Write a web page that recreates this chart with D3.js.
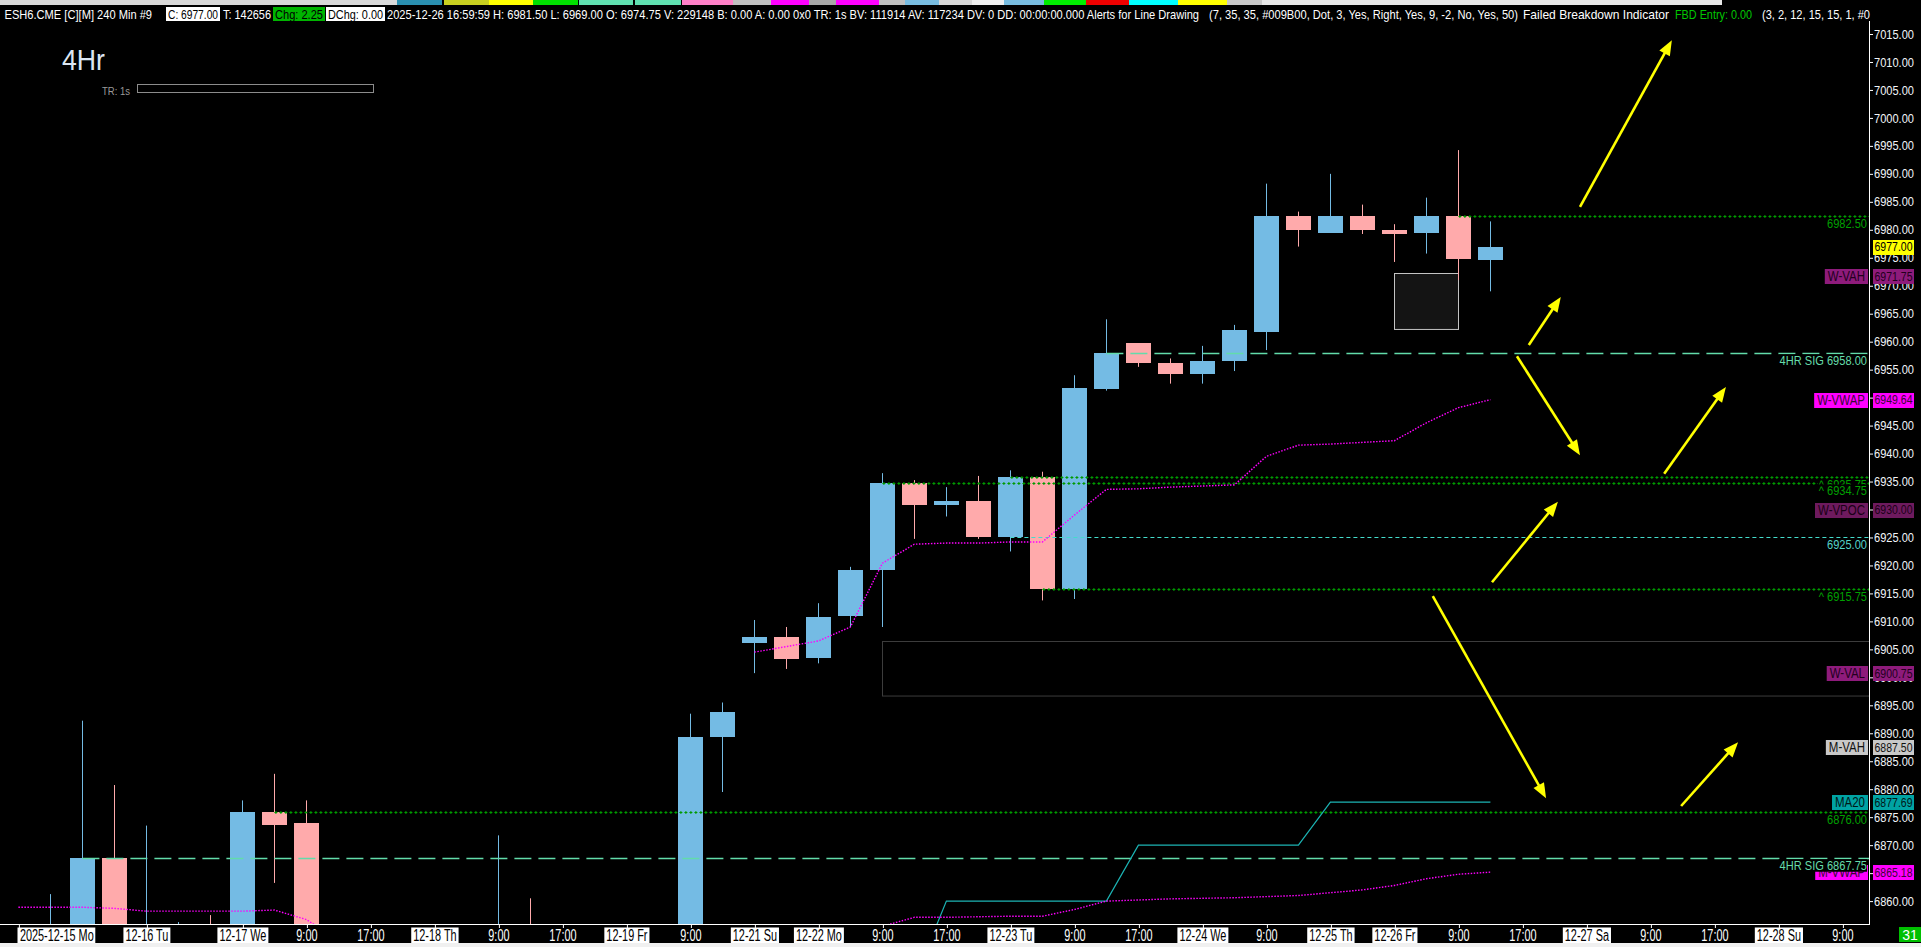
<!DOCTYPE html>
<html><head><meta charset="utf-8">
<script src="https://cdn.jsdelivr.net/npm/d3@7"></script>
<style>
html,body{margin:0;padding:0;background:#000;overflow:hidden}
svg{display:block}
text{font-family:"Liberation Sans","DejaVu Sans",Arial,sans-serif}
</style></head><body>
<svg id="c" width="1921" height="947"></svg>
<script>
// ---------------- DATA ----------------
// 240-min bars, index 0 = 2025-12-15 session start
const opens  = [6845,6846,6850,6867.75,6840,6846,6850,6840,6876,6874,6845,6835,6842,6836,6840,6845,6848,6835,6820,6830,6840,6846,6889.25,6906.25,6907.25,6903.5,6911,6919.25,6934.75,6930.75,6931.5,6925,6935.75,6915.75,6951.5,6959.75,6956.25,6954.25,6956.5,6961.75,6982.5,6979.5,6982.5,6980,6979.5,6982.5,6974.75];
const highs  = [6852,6861.25,6892.25,6880.75,6873.5,6856.25,6857.5,6878,6882.75,6878,6852,6848,6850,6846,6850,6871.75,6860.5,6845,6835,6845,6850,6893.5,6895.5,6910.25,6909,6913.25,6919.75,6936.5,6935.25,6934,6936,6937,6936.75,6954,6964,6959.75,6957,6959.25,6963,6988.25,6983.25,6990,6984.5,6981,6985.75,6994.25,6981.5];
const lows   = [6838,6840,6846,6840,6832,6838,6836,6838,6863.25,6840,6830,6825,6832,6828,6834,6838,6830,6815,6812,6825,6835,6844,6879.5,6900.75,6901.5,6902.5,6909,6909,6924.75,6928.75,6924.75,6922.5,6913.75,6914,6951.25,6955.5,6952.5,6952.5,6954.75,6958.5,6977,6979.5,6979.25,6974.25,6975.75,6971,6969];
const closes = [6848,6852,6867.75,6845,6848,6850,6840,6876,6873.75,6845,6835,6842,6836,6840,6845,6848,6835,6820,6830,6840,6846,6889.25,6893.75,6907.25,6903.25,6910.75,6919.25,6934.75,6930.75,6931.5,6925,6935.75,6915.75,6951.75,6958,6956.25,6954.25,6956.5,6962,6982.5,6980,6982.5,6980,6979.25,6982.5,6974.75,6977];

// weekly VWAP (week of 12-15, then week of 12-22)
const wvwap1Bars = [0,1,2,3,4,5,6,7,8,9,10];
const wvwap1     = [6858.9,6858.9,6858.9,6858.7,6858.2,6858.2,6858.2,6858.2,6858.4,6856.7,6853];
const wvwap2Bars = [23,24,25,26,27,28,29,30,31,32,33,34,35,36,37,38,39,40,41,42,43,44,45,46];
const wvwap2     = [6904.5,6905.5,6906.5,6909,6920.4,6923.8,6924,6924,6924.2,6924.2,6929,6933.6,6933.7,6934,6934.2,6934.4,6939.5,6941.5,6941.7,6942,6942.3,6945.5,6948.2,6949.64];
// monthly VWAP
const mvwapBars = [25,26,27,28,29,30,31,32,33,34,35,36,37,38,39,40,41,42,43,44,45,46];
const mvwap     = [6852,6853.5,6855.5,6857.1,6857.1,6857.2,6857.3,6857.3,6858.5,6860,6860.2,6860.4,6860.5,6860.6,6860.8,6861,6861.5,6862,6862.8,6864,6864.8,6865.18];
// MA20 (stepped)
const ma20Bars = [28,29,30,31,32,33,34,35,36,37,38,39,40,41,42,43,44,45,46];
const ma20     = [6846,6860,6860,6860,6860,6860,6860,6870,6870,6870,6870,6870,6870,6877.69,6877.69,6877.69,6877.69,6877.69,6877.69];

// horizontal levels
const levelPrices = [6982.50,6958.00,6935.75,6934.75,6925.00,6915.75,6876.00,6867.75];
const levelStart  = [45,34,31,27,31,32,8,2];
const levelText   = ["6982.50","4HR SIG  6958.00","^  6935.75","^  6934.75","6925.00","^  6915.75","6876.00","4HR SIG  6867.75"];
const levelKind   = ["dot","sig","dot","dot","dash","dot","dot","sig"];

// right-side value tags
const tagNames  = ["","W-VAH","W-VWAP","W-VPOC","W-VAL","M-VAH","MA20","M-VWAP"];
const tagValues = [6977.00,6971.75,6949.64,6930.00,6900.75,6887.50,6877.69,6865.18];

// price axis ticks
const priceTicks = [7015,7010,7005,7000,6995,6990,6985,6980,6975,6970,6965,6960,6955,6950,6945,6940,6935,6930,6925,6920,6915,6910,6905,6900,6895,6890,6885,6880,6875,6870,6865,6860];

// time axis labels (bar index where each label sits)
const timeLabels = ["2025-12-15 Mo","12-16 Tu","12-17 We","9:00","17:00","12-18 Th","9:00","17:00","12-19 Fr","9:00","12-21 Su","12-22 Mo","9:00","17:00","12-23 Tu","9:00","17:00","12-24 We","9:00","12-25 Th","12-26 Fr","9:00","17:00","12-27 Sa","9:00","17:00","12-28 Su","9:00"];
const timeBars   = [0,4,7,9,11,13,15,17,19,21,23,25,27,29,31,33,35,37,39,41,43,45,47,49,51,53,55,57];

// drawn zones (bar index span, price span)
const zoneBars   = [[43,45],[27,60]];
const zonePrices = [[6972.25,6962.25],[6906.5,6896.75]];

// yellow annotation arrows: [bar, price] tail -> head
const arrowTail = [[48.8,6984.1],[47.2,6959.4],[46.83,6957.4],[51.43,6936.4],[46.05,6917],[44.2,6914.5],[51.96,6877]];
const arrowHead = [[51.67,7013.9],[48.2,6968],[48.8,6939.7],[53.36,6951.9],[48.11,6931.4],[47.74,6878.4],[53.74,6888.4]];

// header
const headerParts = ["ESH6.CME [C][M]  240 Min  #9","C: 6977.00","T: 142656","Chg: 2.25","DChg: 0.00",
 "2025-12-26 16:59:59 H: 6981.50 L: 6969.00 O: 6974.75 V: 229148 B: 0.00 A: 0.00 0x0 TR: 1s BV: 111914 AV: 117234 DV: 0 DD: 00:00:00.000 Alerts for Line Drawing",
 "(7, 35, 35, #009B00, Dot, 3, Yes, Right, Yes, 9, -2, No, Yes, 50)","Failed Breakdown Indicator","FBD Entry: 0.00","(3, 2, 12, 15, 15, 1, #0"];

// ---------------- LAYOUT / STYLE ----------------
const W=1921,H=947, plotRight=1869, plotTop=21, plotBottom=924;
const headerSpans = [[4.5,152],[166,220],[223,271],[273,325],[326,385],[387,1199],[1209,1518],[1523,1669],[1675,1752],[1762,1870]];
const headerStyle = [null,{bg:"#fff",fg:"#000"},null,{bg:"#00b400",fg:"#000"},{bg:"#fff",fg:"#000"},null,null,null,{fg:"#00c800"},null];
const uiStrip = [[0,397,'#d9d9d9'],[397,442,'#2a8fb0'],[444,489,'#c8d020'],[489,533,'#ffff00'],[533,578,'#00e000'],[579,633,'#5fe0b0'],[635,681,'#5fe0b0'],[682,733,'#ff80c8'],[733,771,'#c0c0c0'],[771,809,'#ff00ff'],[809,836,'#a8a8a8'],[836,879,'#ff00ff'],[879,905,'#c0c0c0'],[905,939,'#78bce0'],[939,972,'#d8d8d8'],[972,1004,'#f0f0f0'],[1004,1044,'#78bce0'],[1044,1086,'#00ee00'],[1086,1129,'#ee0000'],[1129,1178,'#00ffff'],[1178,1227,'#ffff00'],[1227,1262,'#c8c8c8'],[1262,1722,'#e8e8e8']];
const UP="#74bbe4", DN="#ffaaab";
const tagStyle = {"":{bg:"#ffff00",fg:"#000"},"W-VAH":{bg:"#8e1b7b",fg:"#22001e"},"W-VWAP":{bg:"#ff00ff",fg:"#3a0636"},"W-VPOC":{bg:"#6e1a5e",fg:"#1a0016"},"W-VAL":{bg:"#8e1b7b",fg:"#22001e"},"M-VAH":{bg:"#c8c8c8",fg:"#111"},"MA20":{bg:"#00a3a3",fg:"#001818"},"M-VWAP":{bg:"#ff00ff",fg:"#3a0636"}};
const kindStyle = {dot:{c:"#009b00",t:"#00a000"},sig:{c:"#62dcaa",t:"#66dcaa"},dash:{c:"#44dccc",t:"#55d4c8"}};

const x = d3.scaleLinear().domain([0,57]).range([18.4,1842.4]);
const y = d3.scaleLinear().domain([6860,7015]).range([901.1,34]);

const svg = d3.select('#c');
svg.append('rect').attr('width',W).attr('height',H).attr('fill','#000');

// condense a text to fraction f of its natural width; returns the final width
function condense(sel,f){ let w=0; sel.each(function(){ const n=this.getComputedTextLength(); w=n*f; this.setAttribute('textLength',w); this.setAttribute('lengthAdjust','spacingAndGlyphs'); }); return w; }
function fit(sel,w){ sel.attr('textLength',w).attr('lengthAdjust','spacingAndGlyphs'); }

// top UI strip
svg.append('g').selectAll('rect').data(uiStrip).join('rect')
  .attr('x',d=>d[0]).attr('width',d=>d[1]-d[0]).attr('y',0).attr('height',5).attr('fill',d=>d[2]);

// header row
const hg = svg.append('g');
headerParts.forEach((t,i)=>{
  const [a,b]=headerSpans[i], st=headerStyle[i];
  if(st && st.bg) hg.append('rect').attr('x',a).attr('y',7).attr('width',b-a).attr('height',14).attr('fill',st.bg);
  const pad = st && st.bg ? 2 : 0;
  hg.append('text').attr('x',a+pad).attr('y',18.5).attr('font-size',13.5)
    .attr('fill', st ? st.fg : '#fff').text(t).call(fit,b-a-2*pad);
});

// 4Hr title and TR bar
svg.append('text').attr('x',62).attr('y',70).attr('font-size',29).attr('fill','#dce6f2').text('4Hr').call(fit,43);
svg.append('text').attr('x',102).attr('y',95).attr('font-size',11).attr('fill','#9a9a9a').text('TR: 1s').call(fit,28);
svg.append('rect').attr('x',137.5).attr('y',84.5).attr('width',236).attr('height',8).attr('fill','none').attr('stroke','#8c8c8c');

// plot clip
svg.append('defs').append('clipPath').attr('id','plot').append('rect')
  .attr('x',0).attr('y',plotTop).attr('width',plotRight).attr('height',plotBottom-plotTop);
const plot = svg.append('g').attr('clip-path','url(#plot)');

// zones
plot.append('g').selectAll('rect').data(zoneBars).join('rect')
  .attr('x',(d)=>Math.round(x(d[0]))+0.5)
  .attr('width',(d)=>Math.min(x(d[1]),plotRight+2)-x(d[0]))
  .attr('y',(d,i)=>Math.round(y(zonePrices[i][0]))+0.5)
  .attr('height',(d,i)=>y(zonePrices[i][1])-y(zonePrices[i][0]))
  .attr('fill',(d,i)=>i===0?'#141414':'none')
  .attr('stroke',(d,i)=>i===0?'#c4c4c4':'#3c3c3c').attr('stroke-width',1);

// candles
const cg = plot.append('g');
opens.forEach((o,i)=>{
  const c=closes[i], col = c>=o?UP:DN, cx=x(i);
  cg.append('line').attr('x1',Math.round(cx)+0.5).attr('x2',Math.round(cx)+0.5)
    .attr('y1',y(highs[i])).attr('y2',y(lows[i])).attr('stroke',col).attr('stroke-width',1);
  const top=y(Math.max(o,c)), bot=y(Math.min(o,c));
  cg.append('rect').attr('x',Math.round(cx-12)).attr('width',25)
    .attr('y',Math.round(top)).attr('height',Math.max(2,Math.round(bot-top)))
    .attr('fill',col).attr('shape-rendering','crispEdges');
});

// horizontal levels
const lg = plot.append('g');
levelPrices.forEach((p,i)=>{
  const yy=Math.round(y(p))+0.5, x1=x(levelStart[i]), k=levelKind[i], c=kindStyle[k].c;
  if(k==='dot'){
    lg.append('line').attr('x1',x1).attr('x2',plotRight).attr('y1',yy).attr('y2',yy)
      .attr('stroke',c).attr('stroke-width',1).attr('stroke-dasharray','3 2');
    lg.append('line').attr('x1',x1+1).attr('x2',plotRight).attr('y1',yy).attr('y2',yy)
      .attr('stroke',c).attr('stroke-width',3).attr('stroke-dasharray','1 4');
  } else {
    lg.append('line').attr('x1',x1).attr('x2',plotRight).attr('y1',yy).attr('y2',yy)
      .attr('stroke',c).attr('stroke-width',k==='sig'?1.6:1.2).attr('stroke-dasharray',k==='sig'?'17 7':'4 3');
  }
});

// MA20 and VWAP lines
const line = d3.line().x(d=>x(d[0])).y(d=>y(d[1]));
plot.append('path').attr('d',line(ma20Bars.map((b,i)=>[b,ma20[i]]))).attr('fill','none').attr('stroke','#1cb4b4').attr('stroke-width',1.2);
[[wvwap1Bars,wvwap1],[wvwap2Bars,wvwap2],[mvwapBars,mvwap]].forEach(([bs,vs])=>{
  plot.append('path').attr('d',line(bs.map((b,i)=>[b,vs[i]]))).attr('fill','none')
    .attr('stroke','#ff00ff').attr('stroke-width',1.4).attr('stroke-dasharray','1.5 1.5');
});

// arrows
const ag = plot.append('g');
arrowTail.forEach((t,i)=>{
  const h=arrowHead[i];
  const x0=x(t[0]), y0=y(t[1]), x1=x(h[0]), y1=y(h[1]);
  const dx=x1-x0, dy=y1-y0, L=Math.hypot(dx,dy), ux=dx/L, uy=dy/L, hl=15, hw=6;
  const bx=x1-ux*hl, by=y1-uy*hl;
  ag.append('line').attr('x1',x0).attr('y1',y0).attr('x2',bx+ux*2).attr('y2',by+uy*2)
    .attr('stroke','#ffff00').attr('stroke-width',2.6);
  ag.append('path').attr('d',`M${x1},${y1}L${bx-uy*hw},${by+ux*hw}L${bx+uy*hw},${by-ux*hw}Z`).attr('fill','#ffff00');
});

// price axis
const ax = svg.append('g').attr('transform',`translate(${plotRight},0)`)
  .call(d3.axisRight(y).tickValues(priceTicks).tickFormat(d3.format('.2f')).tickSize(4).tickPadding(1));
ax.select('.domain').remove();
ax.selectAll('line').attr('stroke','#fff');
ax.selectAll('text').attr('fill','#f2f5f8').attr('font-size',12.8).attr('font-family','"Liberation Sans",Arial,sans-serif').call(fit,40);
svg.append('line').attr('x1',plotRight+0.5).attr('x2',plotRight+0.5).attr('y1',plotTop).attr('y2',plotBottom+1).attr('stroke','#fff');

// level labels (inside plot, right aligned)
function levelLabel(i){
  const yy=y(levelPrices[i])+12, st=kindStyle[levelKind[i]];
  const t = svg.append('text').attr('x',1867).attr('y',yy).attr('text-anchor','end').attr('font-size',13.5)
    .attr('fill',st.t).text(levelText[i]);
  const w = condense(t,0.82);
  if(levelText[i].indexOf('^')===0 || levelText[i].indexOf('4HR')===0){
    svg.insert('rect',()=>t.node()).attr('x',1867-w-1).attr('y',yy-10.5).attr('width',w+1).attr('height',12.5).attr('fill','#000');
  }
}
levelPrices.forEach((p,i)=>{ if(i!==levelPrices.length-1) levelLabel(i); });

// value tags
tagValues.forEach((v,i)=>{
  const yy=y(v), st=tagStyle[tagNames[i]];
  const g=svg.append('g');
  if(tagNames[i]){
    const t=g.append('text').attr('x',1865).attr('y',yy).attr('dy','0.36em').attr('text-anchor','end')
      .attr('font-size',14).attr('fill',st.fg).text(tagNames[i]);
    const w=condense(t,0.82);
    g.insert('rect','text').attr('x',1865-w-3).attr('y',Math.round(yy-7)).attr('width',w+6).attr('height',15).attr('fill',st.bg);
  }
  g.append('rect').attr('x',1873).attr('y',Math.round(yy-7)).attr('width',41).attr('height',15).attr('fill',st.bg);
  g.append('text').attr('x',1874.5).attr('y',yy).attr('dy','0.36em').attr('font-size',12.8).attr('fill',st.fg)
    .text(d3.format('.2f')(v)).call(fit,38);
});
// 4HR SIG 6867.75 label sits above the M-VWAP name tag
levelLabel(levelPrices.length-1);

// time axis
svg.append('line').attr('x1',0).attr('x2',plotRight+1).attr('y1',plotBottom+0.5).attr('y2',plotBottom+0.5).attr('stroke','#fff');
const tx = svg.append('g').attr('transform',`translate(0,${plotBottom})`)
  .call(d3.axisBottom(x).tickValues(timeBars).tickFormat((d,i)=>timeLabels[i]).tickSize(4).tickPadding(1));
tx.select('.domain').remove();
tx.selectAll('line').attr('stroke','#fff').attr('transform','translate(0.5,0)');
tx.selectAll('.tick').each(function(d,i){
  const g=d3.select(this), isDate=timeLabels[i].indexOf('-')>0;
  const t=g.select('text').attr('y',17.2).attr('dy',null).attr('font-size',16)
    .attr('font-family','"Liberation Sans",Arial,sans-serif').attr('fill',isDate?'#000':'#fff');
  const w=condense(t,0.68);
  if(i===0){ t.attr('text-anchor','start').attr('x',1); }
  if(isDate){
    const bx = i===0 ? -1.4 : -w/2-2;
    g.insert('rect','text').attr('x',bx).attr('y',3.5).attr('width',w+4).attr('height',15.5).attr('fill','#fff');
  }
});

// bottom-right counter and window edge
svg.append('rect').attr('x',1899).attr('y',927).attr('width',22).attr('height',15).attr('fill','#00c000');
svg.append('text').attr('x',1910).attr('y',939.5).attr('text-anchor','middle').attr('font-size',14).attr('fill','#fff').text('31');
svg.append('rect').attr('x',0).attr('y',943).attr('width',W).attr('height',4).attr('fill','#f0f0f0');
</script>
</body></html>
